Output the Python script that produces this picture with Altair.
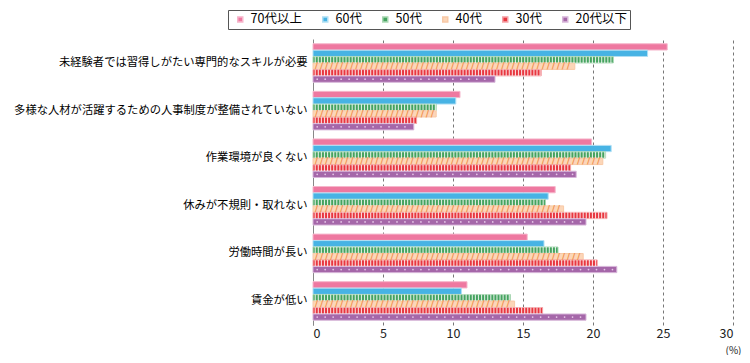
import altair as alt
import pandas as pd

categories = [
    "未経験者では習得しがたい専門的なスキルが必要",
    "多様な人材が活躍するための人事制度が整備されていない",
    "作業環境が良くない",
    "休みが不規則・取れない",
    "労働時間が長い",
    "賃金が低い",
]
ages = ["70代以上", "60代", "50代", "40代", "30代", "20代以下"]
v70 = [25.3, 10.5, 19.9, 17.3, 15.3, 11.0]
v60 = [23.9, 10.2, 21.3, 16.8, 16.5, 10.6]
v50 = [21.45, 8.8, 20.9, 16.6, 17.5, 14.1]
v40 = [18.7, 8.8, 20.7, 17.9, 19.3, 14.4]
v30 = [16.3, 7.4, 18.4, 21.0, 20.3, 16.4]
v20 = [13.0, 7.2, 18.8, 19.5, 21.7, 19.5]
x_ticks = [0, 5, 10, 15, 20, 25, 30]

fills = ["#ee78a0", "#47b3e4", "#45a35f", "#fcd6b8", "#e8363f", "#a567a9"]
strokes = ["#f6b6cb", "#b0dff4", "#a9d7b3", "#f8c9a6", "#f4a3a7", "#d8b7da"]

series = [v70, v60, v50, v40, v30, v20]
rows = []
for a, vals in zip(ages, series):
    for c, v in zip(categories, vals):
        rows.append({"category": c, "age": a, "value": v})
df = pd.DataFrame(rows)

FONT = "Noto Sans CJK JP"

x_axis = alt.Axis(
    values=x_ticks, grid=True, gridDash=[3, 3], gridColor="#777777",
    domain=False, ticks=False, labelFontSize=12.5, labelColor="#222222",
    labelFont=FONT, labelPadding=2, title="(%)", titleFont=FONT,
    titleFontSize=10, titleFontWeight="normal", titleColor="#222222",
    titleX=420, titleY=20, titleAlign="center",
)
x_scale = alt.Scale(domain=[0, 30], nice=False)

y_enc = alt.Y(
    "category:N",
    sort=categories,
    scale=alt.Scale(domain=categories, paddingInner=0.19, paddingOuter=0.1),
    axis=alt.Axis(
        title=None, domainColor="#888888", ticks=False, labelFont=FONT,
        labelFontSize=11.3, labelColor="#000000", labelPadding=6, labelLimit=0,
    ),
)
yoff = alt.YOffset("age:N", sort=ages, scale=alt.Scale(domain=ages, paddingInner=0.03))

base = alt.Chart(df)

bars = base.mark_bar(strokeWidth=1).encode(
    x=alt.X("value:Q", scale=x_scale, axis=x_axis),
    y=y_enc,
    yOffset=yoff,
    color=alt.Color(
        "age:N",
        sort=ages,
        scale=alt.Scale(domain=ages, range=fills),
        legend=alt.Legend(
            title=None, orient="none", legendX=-85, legendY=-29,
            direction="horizontal", columns=6, strokeColor="#555555",
            padding=3, symbolType="square", symbolSize=25, labelFont=FONT,
            labelFontSize=12.5, labelColor="#000000", columnPadding=14,
            symbolOffset=3,
        ),
    ),
    stroke=alt.Stroke("age:N", scale=alt.Scale(domain=ages, range=strokes), legend=None),
)

# white vertical stripes for 50代 and 30代
stripes = base.transform_filter(
    "datum.age == '50代' || datum.age == '30代'"
).transform_calculate(
    ts="sequence(0.12, datum.value - 0.05, 0.22)"
).transform_flatten(["ts"]).transform_calculate(
    te="datum.ts + 0.08"
).mark_bar(color="#ffffff", opacity=0.8).encode(
    x=alt.X("ts:Q", scale=x_scale, axis=x_axis), x2="te:Q", y=y_enc, yOffset=yoff
)

# diagonal hatch for 40代
hatch = base.transform_filter("datum.age == '40代'").transform_calculate(
    ts="sequence(0.25, datum.value - 0.2, 0.36)"
).transform_flatten(["ts"]).mark_text(
    text="/", color="#f0914f", fontSize=9, font="DejaVu Sans", fontWeight="bold"
).encode(x=alt.X("ts:Q", scale=x_scale, axis=x_axis), y=y_enc, yOffset=yoff)

# small dots for 20代以下
dots = base.transform_filter("datum.age == '20代以下'").transform_calculate(
    ts="sequence(0.3, datum.value - 0.2, 0.57)"
).transform_flatten(["ts"]).mark_circle(size=3, color="#e6c8e8", opacity=1).encode(
    x=alt.X("ts:Q", scale=x_scale, axis=x_axis), y=y_enc, yOffset=yoff
)

chart = alt.layer(bars, stripes, hatch, dots).properties(
    width=420, height=286,
    autosize=alt.AutoSizeParams(type="none"),
    padding={"left": 305, "top": 31, "right": 9, "bottom": 30},
).configure_view(stroke=None)

chart.save("out.html", embed_options={"renderer": "svg", "actions": False})
